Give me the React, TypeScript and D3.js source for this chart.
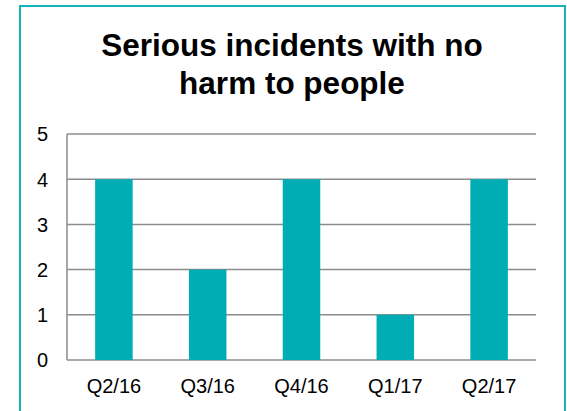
import React from "react";
import * as d3 from "d3";

const categories = ["Q2/16", "Q3/16", "Q4/16", "Q1/17", "Q2/17"];
const values = [4, 2, 4, 1, 4];
const yTicks = [0, 1, 2, 3, 4, 5];
const titleLines = ["Serious incidents with no", "harm to people"];

export default function App() {
  const W = 567, H = 411;
  const left = 67, right = 536, top = 134, bottom = 360;
  const x = d3.scaleBand<string>().domain(categories).range([left, right]).paddingInner(0.6).paddingOuter(0.3);
  const y = d3.scaleLinear().domain([0, 5]).range([bottom, top]);
  const font = "Arial, 'Liberation Sans', sans-serif";
  return (
    <svg width={W} height={H} style={{ position: "absolute", left: 0, top: 0 }}>
      <rect x={0} y={0} width={W} height={H} fill="#fff" />
      <rect x={20} y={6} width={545} height={420} fill="#fff" stroke="#17B3BC" strokeWidth={2} />
      {titleLines.map((t, i) => (
        <text key={i} x={292} y={55.5 + i * 38} textAnchor="middle" fontFamily={font} fontWeight="bold" fontSize={31.5} fill="#000">
          {t}
        </text>
      ))}
      {yTicks.map((t) => (
        <g key={t}>
          <line x1={left} x2={right} y1={y(t)} y2={y(t)} stroke="#8c8c8c" strokeWidth={1.5} />
          <text x={48} y={y(t) + 7.3} textAnchor="end" fontFamily={font} fontSize={20} fill="#000">{t}</text>
        </g>
      ))}
      <line x1={left} x2={left} y1={top} y2={bottom} stroke="#8c8c8c" strokeWidth={1.5} />
      {categories.map((c, i) => (
        <rect key={c} x={x(c)} y={y(values[i])} width={x.bandwidth()} height={bottom - y(values[i])} fill="#00ADB5" />
      ))}
      {categories.map((c) => (
        <text key={c} x={(x(c) as number) + x.bandwidth() / 2} y={393} textAnchor="middle" fontFamily={font} fontSize={20} fill="#000">{c}</text>
      ))}
    </svg>
  );
}
